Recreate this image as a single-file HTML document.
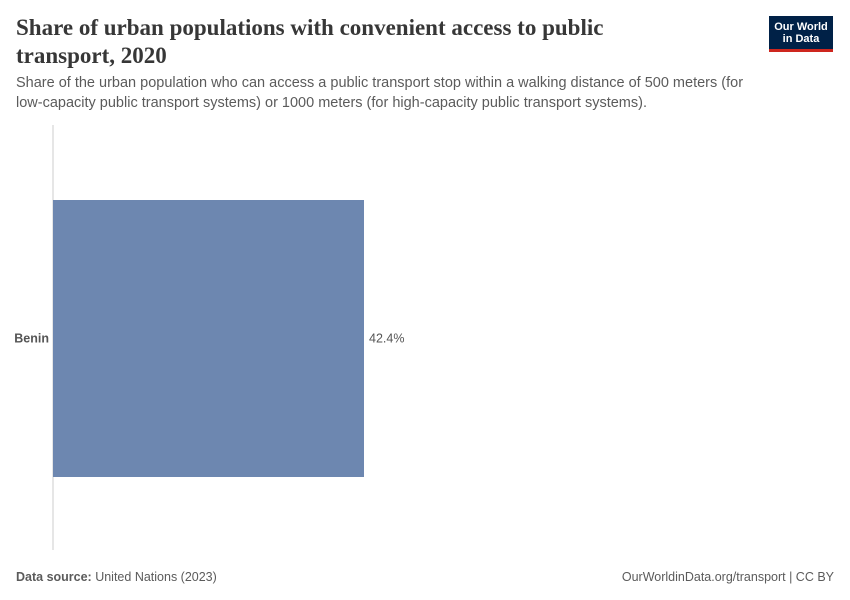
<!DOCTYPE html>
<html><head><meta charset="utf-8"><style>
body{margin:0;background:#fff;width:850px;height:600px;overflow:hidden;position:relative;font-family:"Liberation Sans",sans-serif}
.title{position:absolute;left:16px;top:14px;font-family:"Liberation Serif",serif;font-size:23px;font-weight:bold;line-height:28px;color:#373737;width:610px}
.sub{position:absolute;left:16px;top:73px;font-size:14.5px;line-height:20px;color:#5b5b5b;width:755px}
.logo{position:absolute;left:769px;top:16px;width:64px;height:36px;background:#002147;color:#fff;font-size:11px;line-height:12px;text-align:center;padding-top:5px;box-sizing:border-box;border-bottom:3px solid #ce261e;font-weight:bold}
.foot{position:absolute;top:570px;font-size:12.5px;color:#5b5b5b}
</style></head><body>
<div class="title">Share of urban populations with convenient access to public transport, 2020</div>
<div class="sub">Share of the urban population who can access a public transport stop within a walking distance of 500 meters (for low-capacity public transport systems) or 1000 meters (for high-capacity public transport systems).</div>
<div class="logo">Our World<br>in Data</div>
<svg id="chart" width="850" height="600" style="position:absolute;left:0;top:0"></svg>
<div class="foot" style="left:16px"><b>Data source:</b> United Nations (2023)</div>
<div class="foot" style="right:16px">OurWorldinData.org/transport | CC BY</div>
<script>
const categories=["Benin"];
const values=[42.4];
const svg=document.getElementById('chart');
const NS='http://www.w3.org/2000/svg';
const x0=53, pxPer=311/42.4;
const xs=v=>x0+v*pxPer;
const top0=200, bandH=277;
const axis=document.createElementNS(NS,'line');
axis.setAttribute('x1',x0);axis.setAttribute('x2',x0);axis.setAttribute('y1',125);axis.setAttribute('y2',550);
axis.setAttribute('stroke','#ccc');


svg.appendChild(axis);
categories.forEach((c,i)=>{
 const y=top0+i*bandH;
 const r=document.createElementNS(NS,'rect');
 r.setAttribute('x',x0);r.setAttribute('y',y);r.setAttribute('width',xs(values[i])-x0);r.setAttribute('height',bandH);
 r.setAttribute('fill','#6d87b0');
 
 
 svg.appendChild(r);
 const l=document.createElementNS(NS,'text');
 l.setAttribute('x',x0-4);l.setAttribute('y',y+bandH/2+4);l.setAttribute('text-anchor','end');
 l.setAttribute('font-size','12.5');l.setAttribute('font-weight','bold');l.setAttribute('fill','#555');
 l.textContent=c;
 
 
 svg.appendChild(l);
 const v=document.createElementNS(NS,'text');
 v.setAttribute('x',xs(values[i])+5);v.setAttribute('y',y+bandH/2+4);
 v.setAttribute('font-size','12.5');v.setAttribute('fill','#555');
 v.textContent=values[i].toFixed(1)+'%';
 
 
 svg.appendChild(v);
});
</script>
</body></html>
